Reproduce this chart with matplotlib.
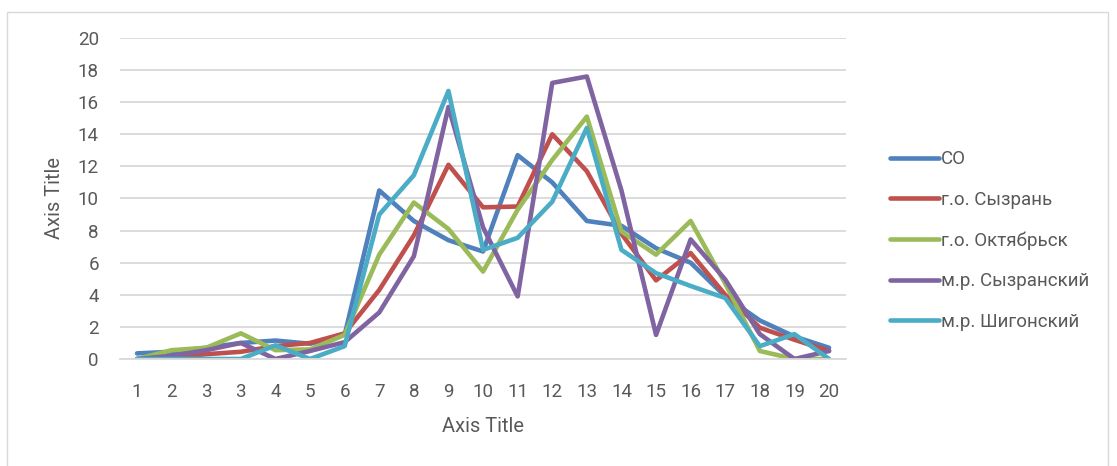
import matplotlib.pyplot as plt
from matplotlib.patches import Rectangle

plt.rcParams['font.family'] = ['Roboto', 'DejaVu Sans']

x_labels = ['1', '2', '3', '3', '4', '5', '6', '7', '8', '9', '10', '11', '12',
            '13', '14', '15', '16', '17', '18', '19', '20']

so = [0.35, 0.45, 0.7, 1.0, 1.15, 0.95, 1.5, 10.5, 8.6, 7.4, 6.7, 12.7, 11.0,
      8.6, 8.3, 6.9, 6.0, 3.9, 2.4, 1.4, 0.7]
syzran = [0.0, 0.1, 0.3, 0.45, 0.8, 1.0, 1.6, 4.3, 7.7, 12.1, 9.45, 9.5, 14.0,
          11.7, 7.8, 4.9, 6.6, 4.0, 1.95, 1.2, 0.5]
oktyabrsk = [0.0, 0.55, 0.7, 1.6, 0.55, 0.6, 1.5, 6.5, 9.75, 8.1, 5.45, 9.3, 12.4,
             15.1, 7.95, 6.5, 8.6, 4.7, 0.5, 0.0, 0.0]
syzranskiy = [0.0, 0.2, 0.55, 1.0, 0.0, 0.5, 1.05, 2.9, 6.4, 15.7, 8.2, 3.9, 17.2,
              17.6, 10.5, 1.5, 7.45, 4.95, 1.55, 0.0, 0.5]
shigonskiy = [0.0, 0.0, 0.0, 0.0, 0.85, 0.0, 0.8, 9.0, 11.45, 16.7, 6.8, 7.55, 9.8,
              14.4, 6.8, 5.35, 4.55, 3.8, 0.8, 1.55, 0.0]

series = [
    ('СО', so, '#4F81BD'),
    ('г.о. Сызрань', syzran, '#C0504D'),
    ('г.о. Октябрьск', oktyabrsk, '#9BBB59'),
    ('м.р. Сызранский', syzranskiy, '#8064A2'),
    ('м.р. Шигонский', shigonskiy, '#4BACC6'),
]

text_color = '#595959'
grid_color = '#D9D9D9'

fig = plt.figure(figsize=(11.17, 4.66), dpi=100)
ax = fig.add_axes([0.1072, 0.2296, 0.6505, 0.6889])

xs = list(range(len(x_labels)))
for name, vals, col in series:
    ax.plot(xs, vals, color=col, lw=3.3, label=name,
            solid_joinstyle='round', solid_capstyle='round')

ax.set_xlim(-0.5, len(x_labels) - 0.5)
ax.set_ylim(0, 20)
ax.set_yticks(range(0, 21, 2))
ax.set_xticks(xs)
ax.set_xticklabels(x_labels)

ax.yaxis.grid(True, color=grid_color, lw=1.3)
ax.set_axisbelow(True)
for s in ['top', 'right', 'left']:
    ax.spines[s].set_visible(False)
ax.spines['bottom'].set_color(grid_color)
ax.spines['bottom'].set_linewidth(1.3)
ax.tick_params(axis='both', length=0, colors=text_color, labelsize=13.5)
ax.tick_params(axis='y', pad=15)
ax.tick_params(axis='x', pad=17)

ax.set_xlabel('Axis Title', fontsize=14.5, color=text_color, labelpad=12)
ax.set_ylabel('Axis Title', fontsize=14.5, color=text_color, labelpad=10)

leg = fig.legend(loc='center left', bbox_to_anchor=(0.797, 0.484),
                 frameon=False, fontsize=13.5, handlelength=2.6,
                 handletextpad=0.1, labelspacing=1.2, borderpad=0,
                 borderaxespad=0)
for t in leg.get_texts():
    t.set_color(text_color)

fig.patches.append(Rectangle((7 / 1117, -0.05), 1101 / 1117, 1 - 12 / 466 + 0.05,
                             transform=fig.transFigure, fill=False,
                             edgecolor=grid_color, lw=1.0))

fig.savefig('out.png', dpi=100)
